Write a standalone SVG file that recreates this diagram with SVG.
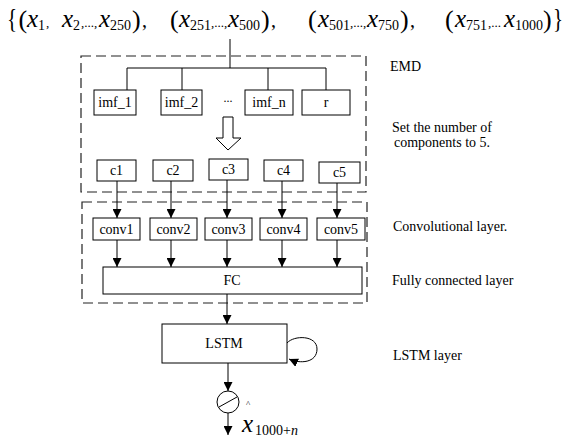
<svg xmlns="http://www.w3.org/2000/svg" width="578" height="444" viewBox="0 0 578 444">
<defs>
<style>
.box{fill:#fff;stroke:#000;stroke-width:1}
.dash{fill:none;stroke:#222;stroke-width:1.2;stroke-dasharray:10 5}
.ln{fill:none;stroke:#000;stroke-width:1}
text{font-family:"Liberation Serif","DejaVu Serif","Noto Serif",serif;fill:#000}
.t{font-size:14px}
.c{text-anchor:middle}
.xi{font-style:italic;font-size:25px}
.sb{font-size:14px}
.pr{font-size:26px}
.pu{font-size:13px}
.cm{font-size:20px}
</style>
<marker id="ah" viewBox="0 0 10 10" refX="10" refY="5" markerWidth="9" markerHeight="9" markerUnits="userSpaceOnUse" orient="auto">
<path d="M0,0 L10,5 L0,10 z" fill="#000"/>
</marker>
</defs>

<g id="formula">
<text transform="translate(7,28) scale(1,1.3)" style="font-size:21px">{</text>
<text><tspan x="18.5" y="28" class="pr">(</tspan><tspan x="27" y="27" class="xi">x</tspan><tspan x="38" y="30" class="sb">1</tspan><tspan x="46" y="27" class="pu">,</tspan><tspan x="62" y="27" class="xi">x</tspan><tspan x="73" y="30" class="sb">2</tspan><tspan x="81" y="27" class="pu">,...,</tspan><tspan x="99" y="27" class="xi">x</tspan><tspan x="110" y="30" class="sb">250</tspan><tspan x="132" y="28" class="pr">)</tspan><tspan x="142" y="27" class="cm">,</tspan><tspan x="170" y="28" class="pr">(</tspan><tspan x="179" y="27" class="xi">x</tspan><tspan x="190" y="30" class="sb">251</tspan><tspan x="211" y="27" class="pu">,...,</tspan><tspan x="228" y="27" class="xi">x</tspan><tspan x="239" y="30" class="sb">500</tspan><tspan x="261" y="28" class="pr">)</tspan><tspan x="271" y="27" class="cm">,</tspan><tspan x="308" y="28" class="pr">(</tspan><tspan x="318" y="27" class="xi">x</tspan><tspan x="329" y="30" class="sb">501</tspan><tspan x="350" y="27" class="pu">,...,</tspan><tspan x="367" y="27" class="xi">x</tspan><tspan x="378" y="30" class="sb">750</tspan><tspan x="400" y="28" class="pr">)</tspan><tspan x="410" y="27" class="cm">,</tspan><tspan x="445" y="28" class="pr">(</tspan><tspan x="455" y="27" class="xi">x</tspan><tspan x="466" y="30" class="sb">751</tspan><tspan x="488" y="27" class="pu">,...</tspan><tspan x="504" y="27" class="xi">x</tspan><tspan x="515" y="30" class="sb">1000</tspan><tspan x="543" y="28" class="pr">)</tspan></text>
<text transform="translate(553,28) scale(1,1.3)" style="font-size:21px">}</text>
</g>

<g id="emd-frame"><rect class="dash" x="81" y="56" width="285" height="136"/></g>
<g id="conv-frame"><rect class="dash" x="82" y="202" width="285" height="101"/></g>

<g id="connectors">
<path class="ln" d="M230,39 V68"/>
<path class="ln" d="M127,68 H326 M127,68 V90 M182,68 V90 M268,68 V90 M326,68 V90"/>
<polygon class="ln" points="223,117 233,117 233,138 241,138 228,150 216,138 223,138"/>
<path class="ln" marker-end="url(#ah)" d="M117,181 V218"/>
<path class="ln" marker-end="url(#ah)" d="M171,181 V218"/>
<path class="ln" marker-end="url(#ah)" d="M227,180 V218"/>
<path class="ln" marker-end="url(#ah)" d="M282,181 V218"/>
<path class="ln" marker-end="url(#ah)" d="M337,183 V218"/>
<path class="ln" marker-end="url(#ah)" d="M117,240 V267"/>
<path class="ln" marker-end="url(#ah)" d="M171,240 V267"/>
<path class="ln" marker-end="url(#ah)" d="M227,240 V267"/>
<path class="ln" marker-end="url(#ah)" d="M282,240 V267"/>
<path class="ln" marker-end="url(#ah)" d="M337,240 V267"/>
<path class="ln" marker-end="url(#ah)" d="M227,294 V324"/>
<path class="ln" marker-end="url(#ah)" d="M287,343 C294,335 317,335 317,349 C317,363 300,364 289,359"/>
<path class="ln" marker-end="url(#ah)" d="M228,363 V391"/>
<path class="ln" marker-end="url(#ah)" d="M228,413 V435"/>
</g>

<g id="imf_1"><rect class="box" x="94" y="90" width="42" height="25"/><text class="t c" x="115" y="107">imf_1</text></g>
<g id="imf_2"><rect class="box" x="161" y="90" width="41" height="25"/><text class="t c" x="181.5" y="107">imf_2</text></g>
<g id="dots"><text class="t c" x="228" y="102" style="font-size:12px">...</text></g>
<g id="imf_n"><rect class="box" x="245" y="90" width="48" height="25"/><text class="t c" x="269" y="107">imf_n</text></g>
<g id="r"><rect class="box" x="302" y="90" width="48" height="25"/><text class="t c" x="326" y="107">r</text></g>

<g id="c1"><rect class="box" x="97" y="160" width="39" height="21"/><text class="t c" x="116.5" y="175">c1</text></g>
<g id="c2"><rect class="box" x="153" y="160" width="40" height="21"/><text class="t c" x="173" y="175">c2</text></g>
<g id="c3"><rect class="box" x="209" y="159" width="39" height="21"/><text class="t c" x="228.5" y="174">c3</text></g>
<g id="c4"><rect class="box" x="264" y="160" width="39" height="21"/><text class="t c" x="283.5" y="175">c4</text></g>
<g id="c5"><rect class="box" x="319" y="162" width="41" height="21"/><text class="t c" x="339.5" y="177">c5</text></g>

<g id="conv1"><rect class="box" x="93" y="218" width="47" height="22"/><text class="t c" x="116.5" y="234">conv1</text></g>
<g id="conv2"><rect class="box" x="150" y="218" width="47" height="22"/><text class="t c" x="173.5" y="234">conv2</text></g>
<g id="conv3"><rect class="box" x="205" y="218" width="47" height="22"/><text class="t c" x="228.5" y="234">conv3</text></g>
<g id="conv4"><rect class="box" x="260" y="218" width="47" height="22"/><text class="t c" x="283.5" y="234">conv4</text></g>
<g id="conv5"><rect class="box" x="317" y="218" width="48" height="22"/><text class="t c" x="341" y="234">conv5</text></g>

<g id="FC"><rect class="box" x="103" y="267" width="259" height="27"/><text class="t c" x="232" y="285">FC</text></g>

<g id="LSTM"><rect class="box" x="162" y="324" width="125" height="39"/><text class="t c" x="224" y="348">LSTM</text></g>

<g id="output">
<circle class="ln" cx="228" cy="402" r="11" fill="#fff"/>
<path class="ln" d="M219,407 L237,397"/>
<text><tspan x="246" y="407" style="font-size:9px">^</tspan><tspan x="242" y="432" style="font-size:25px;font-style:italic">x</tspan><tspan x="255" y="435" style="font-size:14px">1000+</tspan><tspan style="font-size:14px;font-style:italic">n</tspan></text>
</g>

<g id="labels">
<text class="t" x="390" y="71">EMD</text>
<text class="t" x="392" y="132">Set the number  of</text>
<text class="t" x="394" y="147">components to 5.</text>
<text class="t" x="393" y="231">Convolutional layer.</text>
<text class="t" x="392" y="285">Fully connected layer</text>
<text class="t" x="393" y="360">LSTM layer</text>
</g>
</svg>
